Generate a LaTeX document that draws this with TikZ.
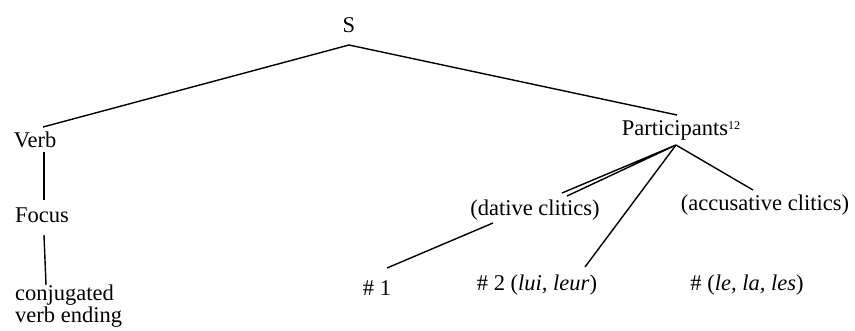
\documentclass[tikz,border=0pt]{standalone}
\usepackage{fontspec}
\setmainfont{Liberation Serif}
\begin{document}
\begin{tikzpicture}[x=1pt,y=1pt,
  lab/.style={inner sep=0pt, font=\fontsize{22.5}{18}\selectfont},
  edge/.style={line width=1.4pt}]
\useasboundingbox (0,0) rectangle (855,-330);
\node[lab] (S) at (349,-25) {S};
\node[lab] (Verb) at (35,-140) {Verb};
\node[lab] (Part) at (681,-130) {Participants\raisebox{6pt}{\fontsize{12}{12}\selectfont 12}};
\node[lab] (Focus) at (42,-215) {Focus};
\node[lab, align=left, anchor=west] (conj) at (15,-306) {conjugated\\verb ending};
\node[lab] (dat) at (535,-210) {(dative clitics)};
\node[lab] (acc) at (765,-205) {(accusative clitics)};
\node[lab] (n1) at (377,-288) {\# 1};
\node[lab] (n2) at (537,-285) {\# 2 (\textit{lui, leur})};
\node[lab] (n3) at (747,-285) {\# (\textit{le, la, les})};
% connector end points
\coordinate (S-b) at (349,-45);
\coordinate (Verb-t) at (43,-127);
\coordinate (Verb-b) at (44,-152);
\coordinate (Part-t) at (677,-115);
\coordinate (Part-b) at (676,-145);
\coordinate (Focus-t) at (44,-200);
\coordinate (Focus-b) at (44,-235);
\coordinate (conj-t) at (46,-285);
\coordinate (dat-t1) at (562,-193);
\coordinate (dat-t2) at (567,-196);
\coordinate (dat-b) at (493,-223);
\coordinate (n1-t) at (387,-268);
\coordinate (n2-t) at (585,-267);
\coordinate (acc-t) at (753,-190);
\draw[edge] (Verb-t) -- (S-b) -- (Part-t);
\draw[edge] (Verb-b) -- (Focus-t);
\draw[edge] (Focus-b) -- (conj-t);
\draw[edge] (dat-t1) -- (Part-b) -- (dat-t2);
\draw[edge] (Part-b) -- (n2-t);
\draw[edge] (Part-b) -- (acc-t);
\draw[edge] (dat-b) -- (n1-t);
\end{tikzpicture}
\end{document}
